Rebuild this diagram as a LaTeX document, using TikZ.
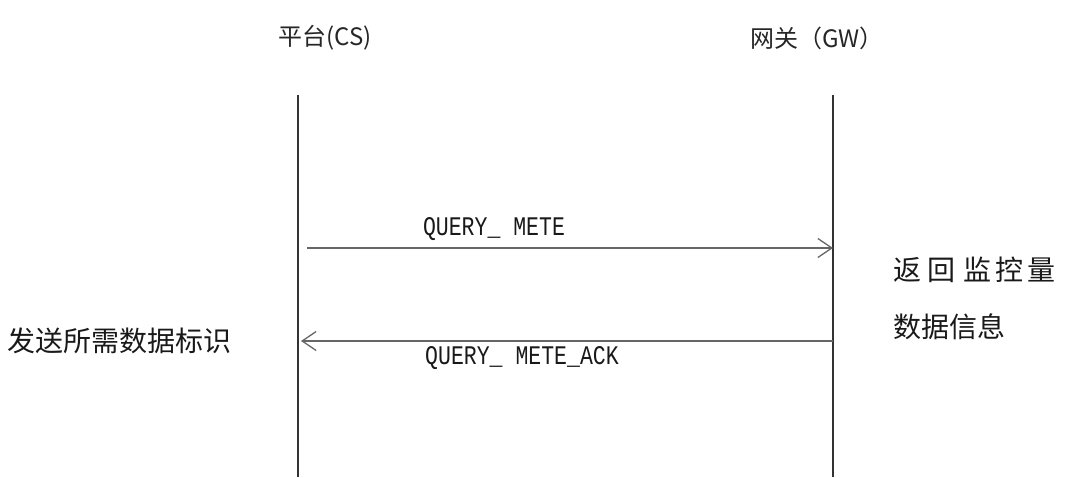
\documentclass[tikz,border=0pt]{standalone}
\usepackage{fontspec}
\newfontfamily\cjk{Noto Sans CJK SC}
\setmonofont{Liberation Mono}
\usetikzlibrary{arrows.meta}

\begin{document}
\begin{tikzpicture}[x=1pt,y=-1pt,
    lifeline/.style={line width=1.3pt,black!80},
    msg/.style={line width=1.6pt,black!60,-{Straight Barb[length=14pt,width=19pt,line width=1.3pt]}},
    head/.style={font=\cjk\fontsize{24}{28}\selectfont,text=black!85},
    note/.style={font=\cjk\fontsize{28}{32}\selectfont,text=black!90,anchor=west,inner sep=0pt},
    code/.style={font=\ttfamily\fontsize{21.5}{24}\selectfont,text=black!90}]
        \useasboundingbox (0,0) rectangle (1071,477);

        \node[head](cs)at(325,38){平台(CS)};
        \node[head](gw)at(817,38){网关（GW）};

        \coordinate(cstop)at(298,95);
        \coordinate(csbot)at(298,477);
        \coordinate(gwtop)at(833,95);
        \coordinate(gwbot)at(833,477);
        \draw[lifeline](cstop)--(csbot);
        \draw[lifeline](gwtop)--(gwbot);

        \coordinate(q1)at(307,248);
        \coordinate(a1)at(833,248);
        \draw[msg](q1)--(a1);
        \node[code](query)at(494,229){\scalebox{1}[1.25]{QUERY\_ METE}};

        \coordinate(q2)at(833,341);
        \coordinate(a2)at(301,341);
        \draw[msg](q2)--(a2);
        \node[code](ack)at(522,358){\scalebox{1}[1.25]{QUERY\_ METE\_ACK}};

        \node[note](send)at(7,341){发送所需数据标识};
        \node[note](back)at(893,270){返\hspace{6pt}回 \hspace{2pt}监\hspace{4pt}控\hspace{4pt}量};
        \node[note](info)at(893,327){数据信息};
    \end{tikzpicture}
\end{document}
